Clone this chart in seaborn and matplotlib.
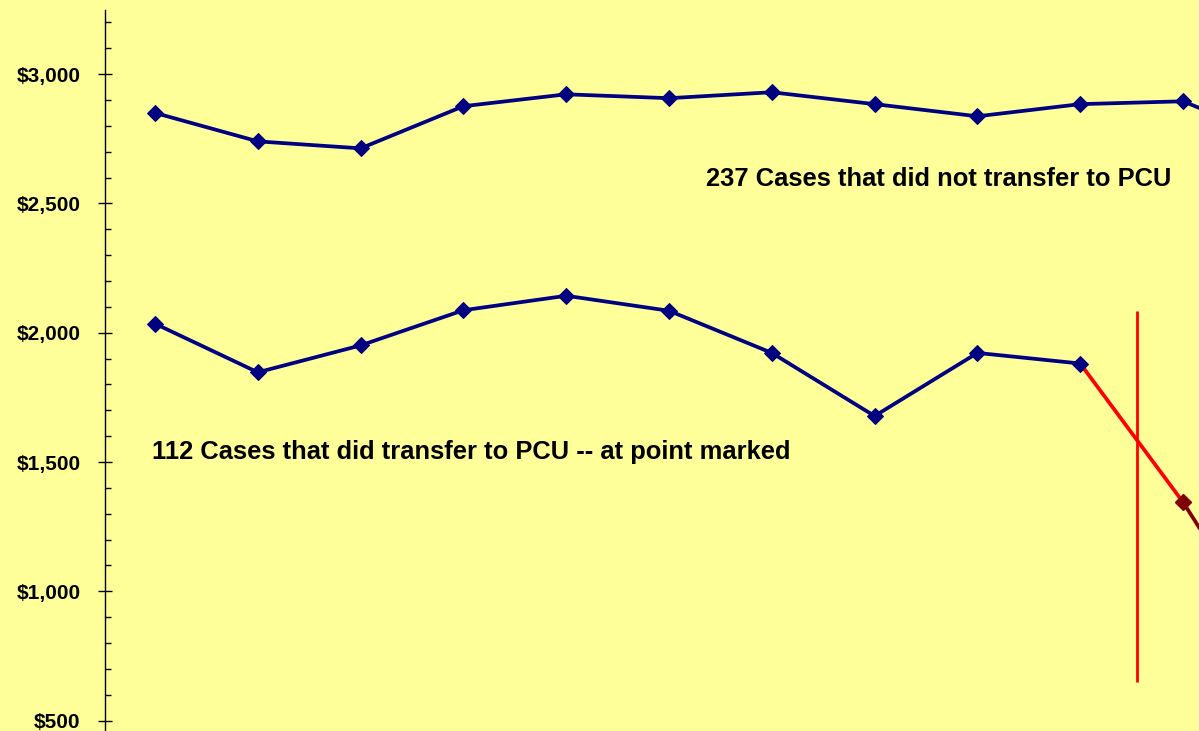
import matplotlib
matplotlib.use("Agg")
import matplotlib.pyplot as plt
from matplotlib.ticker import MultipleLocator, FuncFormatter
import seaborn as sns
import pandas as pd

# ---- data ----
periods = list(range(1, 13))
no_transfer = [2850, 2740, 2713, 2876, 2922, 2907, 2930, 2884, 2837, 2884, 2895, 2733]
transfer = [2035, 1847, 1951, 2087, 2143, 2085, 1922, 1678, 1922, 1881, 1345, 720]
transfer_point = 10.55          # marked transfer point (x)
marker_span = [650, 2085]       # vertical marker extent (y)
label_no = "237 Cases that did not transfer to PCU"
label_yes = "112 Cases that did transfer to PCU -- at point marked"
yticks = [500, 1000, 1500, 2000, 2500, 3000]

BG = "#FFFF99"
NAVY = "#000080"
RED = "#FF0000"
DARKRED = "#800000"

sns.set_style("ticks")
plt.rcParams["font.family"] = ["Liberation Sans", "DejaVu Sans"]

W, H = 1199, 731
fig = plt.figure(figsize=(W / 100, H / 100), dpi=100, facecolor=BG)
ax = fig.add_axes([104.5 / W, 0, 1 - 104.5 / W, 721 / H])
ax.set_facecolor(BG)

df_up = pd.DataFrame({"x": periods, "y": no_transfer})
sns.lineplot(data=df_up, x="x", y="y", ax=ax, color=NAVY, lw=2.7,
             marker="D", markersize=8, markeredgecolor=NAVY, clip_on=True)

n_blue = 10
df_blue = pd.DataFrame({"x": periods[:n_blue], "y": transfer[:n_blue]})
sns.lineplot(data=df_blue, x="x", y="y", ax=ax, color=NAVY, lw=2.7,
             marker="D", markersize=8, markeredgecolor=NAVY, zorder=4)
df_red = pd.DataFrame({"x": periods[n_blue - 1:n_blue + 1], "y": transfer[n_blue - 1:n_blue + 1]})
sns.lineplot(data=df_red, x="x", y="y", ax=ax, color=RED, lw=2.7, zorder=3)
df_dark = pd.DataFrame({"x": periods[n_blue:], "y": transfer[n_blue:]})
sns.lineplot(data=df_dark, x="x", y="y", ax=ax, color=DARKRED, lw=2.7, zorder=3)
ax.plot([periods[n_blue]], [transfer[n_blue]], marker="D", markersize=8,
        color=DARKRED, markeredgecolor=DARKRED, zorder=5, ls="none")

ax.vlines(transfer_point, marker_span[0], marker_span[1], color=RED, lw=2.0, zorder=2)

ax.set_xlim(1 - (155 - 104.5) / 102.8, 1 + (1199 - 155) / 102.8)
ax.set_ylim(460, 3248)
ax.set_xlabel("")
ax.set_ylabel("")
ax.set_xticks([])
ax.set_yticks(yticks)
ax.yaxis.set_minor_locator(MultipleLocator(100))
ax.yaxis.set_major_formatter(FuncFormatter(lambda v, p: f"${v:,.0f}"))
for s in ["top", "right", "bottom"]:
    ax.spines[s].set_visible(False)
ax.spines["left"].set_color("black")
ax.spines["left"].set_linewidth(1.0)
ax.tick_params(axis="y", which="major", direction="inout", length=9.4, width=1.0,
               color="black", pad=12.6, labelsize=15, labelcolor="black")
ax.tick_params(axis="y", which="minor", direction="in", length=4, width=1.0, color="black")
for lab in ax.get_yticklabels():
    lab.set_fontweight("bold")

fig.text(706 / W, 1 - 186.5 / H, label_no, fontsize=18.4, fontweight="bold",
         ha="left", va="baseline", color="black")
fig.text(152 / W, 1 - 459 / H, label_yes, fontsize=18.4, fontweight="bold",
         ha="left", va="baseline", color="black")

fig.savefig("out.png", dpi=100, facecolor=BG)
